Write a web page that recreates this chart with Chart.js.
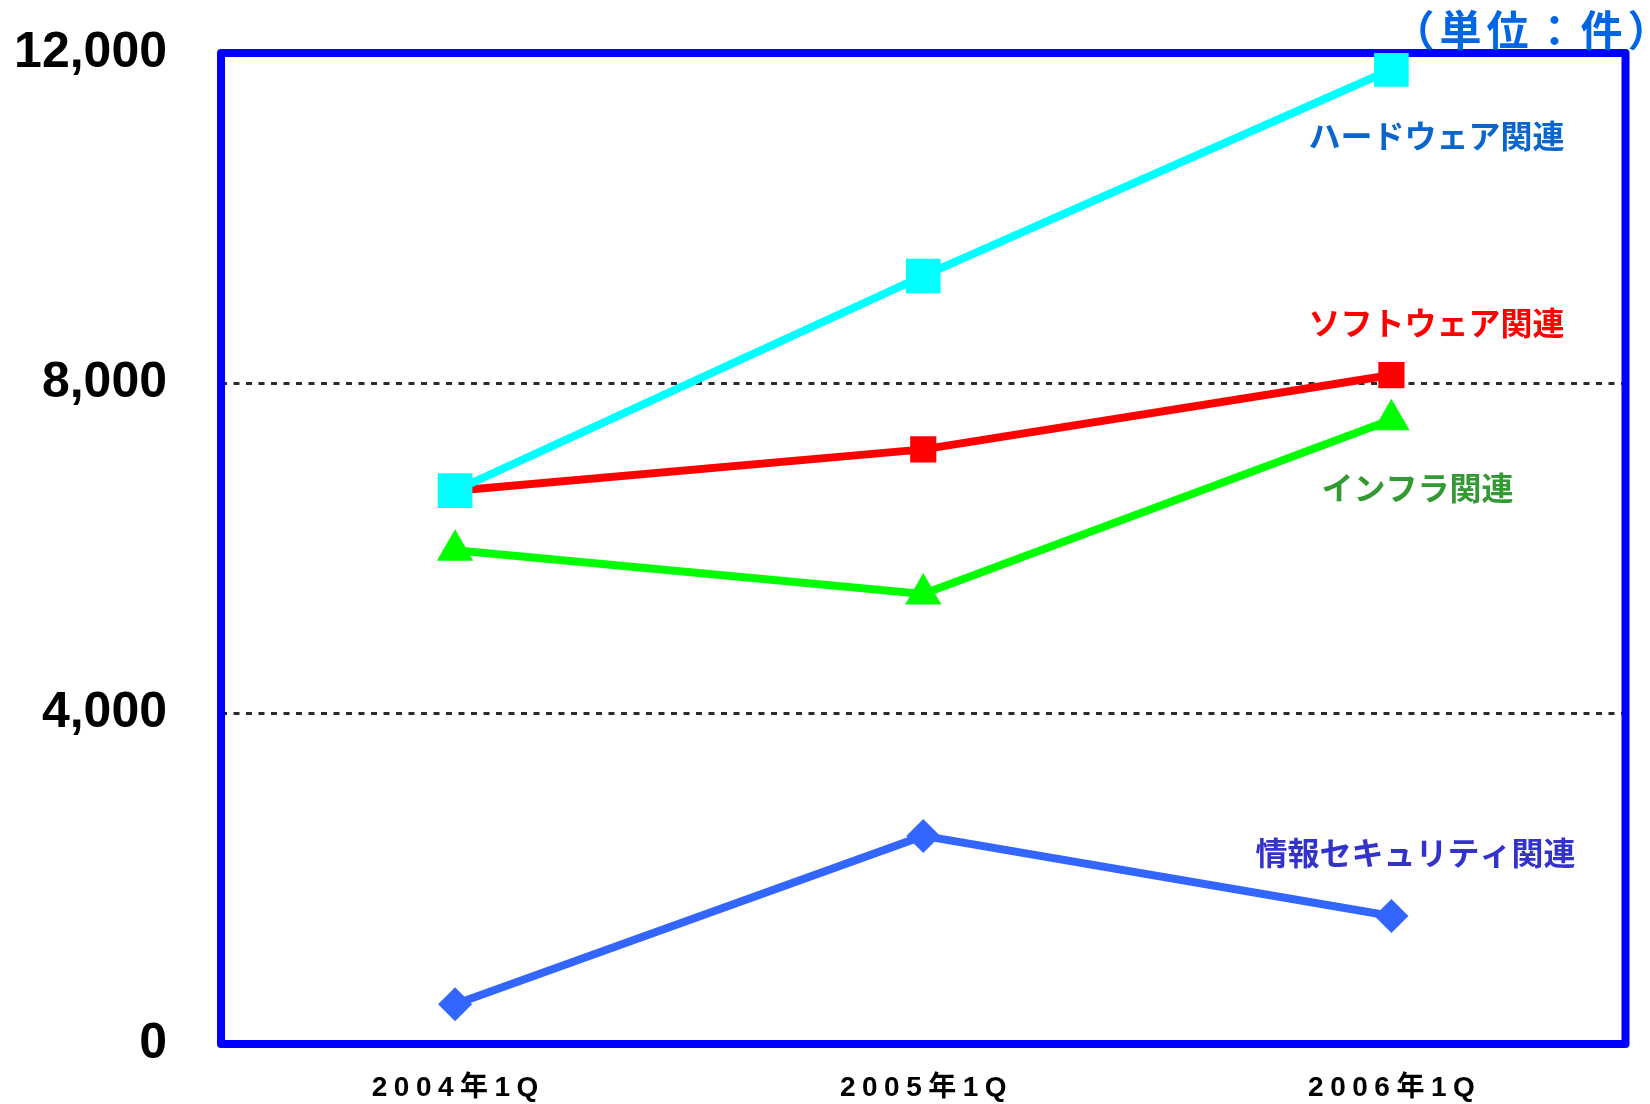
<!DOCTYPE html>
<html lang="ja">

<head>
  <meta charset="UTF-8">
  <title>関連件数の推移</title>
  <script src="https://cdn.jsdelivr.net/npm/chart.js"></script>
  <style>
    body { margin: 0; background: #fff; }
    #box { width: 1650px; height: 1104px; }
  </style>
</head>

<body>
  <div id="box"><canvas id="grafico"></canvas></div>

<script>
  // datos
  const categorias = ['2004年1Q', '2005年1Q', '2006年1Q'];
  const hardware = [6700, 9300, 11800];
  const software = [6700, 7200, 8100];
  const infra = [5980, 5450, 7560];
  const seguridad = [480, 2520, 1550];
  const ticksY = [0, 4000, 8000, 12000];

  const nombres = ['ハードウェア関連', 'ソフトウェア関連', 'インフラ関連', '情報セキュリティ関連'];
  const unidad = '（単位：件）';

  // etiquetas de serie: color, desplazamiento x desde el ultimo punto, altura (en valor)
  const etiquetas = [
    { color: '#0a66cc', dx: 45, v: 11000 },
    { color: '#ff0000', dx: 45, v: 8730 },
    { color: '#339933', dx: 26, v: 6740 },
    { color: '#3333cc', dx: 24, v: 2310 }
  ];

  const fuenteEje = "'Liberation Sans', Arial, 'Noto Sans CJK JP', sans-serif";
  const fuenteJP = "'Noto Sans CJK JP', sans-serif";

  const marco = {
    id: 'marco',
    beforeDraw(chart) {
      // espaciado de letras en las etiquetas del eje x
      const sc = chart.scales.x;
      if (!sc._espaciado) {
        const orig = sc.drawLabels;
        sc.drawLabels = function (area) {
          const ctx = this.ctx;
          ctx.save();
          ctx.letterSpacing = '6.5px';
          ctx.translate(3.25, 0);
          orig.call(this, area);
          ctx.restore();
        };
        sc._espaciado = true;
      }
    },
    beforeDatasetsDraw(chart) {
      const a = chart.chartArea;
      const ctx = chart.ctx;
      ctx.save();
      ctx.strokeStyle = '#0000ff';
      ctx.lineWidth = 8;
      ctx.lineJoin = 'round';
      ctx.strokeRect(a.left, a.top, a.right - a.left, a.bottom - a.top);
      ctx.restore();
    },
    afterDraw(chart) {
      const ctx = chart.ctx;
      const x = chart.scales.x;
      const y = chart.scales.y;
      const ultimo = x.getPixelForValue(categorias.length - 1);
      ctx.save();
      ctx.font = 'bold 32px ' + fuenteJP;
      ctx.textAlign = 'center';
      ctx.textBaseline = 'middle';
      etiquetas.forEach((e, i) => {
        ctx.fillStyle = e.color;
        ctx.fillText(nombres[i], ultimo + e.dx, y.getPixelForValue(e.v));
      });
      ctx.font = 'bold 42px ' + fuenteJP;
      ctx.letterSpacing = '5px';
      ctx.fillStyle = '#0066e6';
      ctx.fillText(unidad, chart.chartArea.right - 92, chart.chartArea.top - 23);
      ctx.restore();
    }
  };

  const data = {
    labels: categorias,
    datasets: [{
      label: nombres[0],
      data: hardware,
      borderColor: '#00ffff',
      backgroundColor: '#00ffff',
      borderWidth: 8,
      pointStyle: 'rect',
      pointRadius: 24.5,
      pointBorderWidth: 0
    }, {
      label: nombres[1],
      data: software,
      borderColor: '#ff0000',
      backgroundColor: '#ff0000',
      borderWidth: 8,
      pointStyle: 'rect',
      pointRadius: 18.5,
      pointBorderWidth: 0
    }, {
      label: nombres[2],
      data: infra,
      borderColor: '#00ff00',
      backgroundColor: '#00ff00',
      borderWidth: 8,
      pointStyle: 'triangle',
      pointRadius: 21,
      pointBorderWidth: 0
    }, {
      label: nombres[3],
      data: seguridad,
      borderColor: '#3366ff',
      backgroundColor: '#3366ff',
      borderWidth: 8,
      pointStyle: 'rectRot',
      pointRadius: 17,
      pointBorderWidth: 0
    }]
  };

  const config = {
    type: 'line',
    data: data,
    plugins: [marco],
    options: {
      responsive: true,
      maintainAspectRatio: false,
      animation: false,
      locale: 'en-US',
      layout: { padding: { top: 53, right: 23, bottom: 0, left: 0 } },
      plugins: {
        legend: { display: false },
        tooltip: { enabled: false }
      },
      scales: {
        x: {
          offset: true,
          border: { display: false },
          grid: { display: false, drawTicks: false },
          ticks: {
            color: '#000',
            padding: 27,
            maxRotation: 0,
            font: { family: fuenteEje, size: 28, weight: 'bold' }
          },
          afterFit(s) { s.height = 60; }
        },
        y: {
          min: 0,
          max: 12000,
          border: { display: false, dash: [6, 6.5] },
          afterBuildTicks(s) { s.ticks = ticksY.map(v => ({ value: v })); },
          grid: {
            drawTicks: false,
            color: '#2a2a2a',
            lineWidth: 3
          },
          ticks: {
            color: '#000',
            padding: 54,
            font: { family: fuenteEje, size: 50, weight: 'bold' }
          },
          afterFit(s) {
            s.width = 221;
            s.paddingTop = 0;
            s.paddingBottom = 0;
          }
        }
      }
    }
  };

  new Chart(document.getElementById('grafico'), config);
</script>
</body>

</html>
